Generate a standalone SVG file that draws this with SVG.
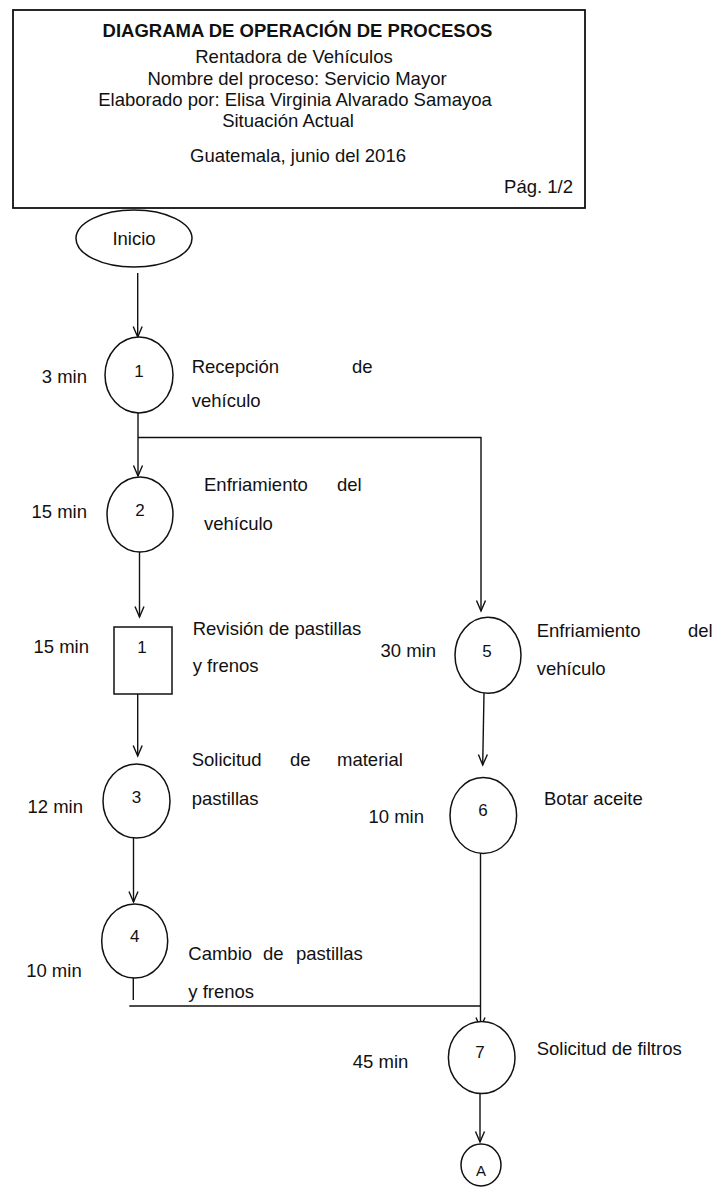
<svg xmlns="http://www.w3.org/2000/svg" width="714" height="1187" viewBox="0 0 714 1187">
<style>
text{font-family:"Liberation Sans",Arial,sans-serif;fill:#111}
.h{font-size:18.5px;text-anchor:middle}
.t{font-size:18.5px;font-weight:bold;text-anchor:middle}
.l{font-size:18.5px}
.n{font-size:17px;text-anchor:middle}
.s{fill:#fff;stroke:#111;stroke-width:1.5}
.c{fill:none;stroke:#111;stroke-width:1.4}
</style>
<defs>
<marker id="arr" markerUnits="userSpaceOnUse" markerWidth="14" markerHeight="12" viewBox="0 0 14 12" refX="12" refY="6" orient="auto">
<path d="M1.5,1.5 L12,6 L1.5,10.5" fill="none" stroke="#111" stroke-width="1.4"/>
</marker>
</defs>
<rect width="714" height="1187" fill="#fff"/>
<g id="header">
<rect x="13" y="10" width="572" height="198" fill="#fff" stroke="#111" stroke-width="1.8"/>
<text class="t" x="297.5" y="37">DIAGRAMA DE OPERACIÓN DE PROCESOS</text>
<text class="h" x="294" y="63">Rentadora de Vehículos</text>
<text class="h" x="297" y="84.5">Nombre del proceso: Servicio Mayor</text>
<text class="h" x="295" y="106">Elaborado por: Elisa Virginia Alvarado Samayoa</text>
<text class="h" x="288" y="127">Situación Actual</text>
<text class="h" x="298" y="162">Guatemala, junio del 2016</text>
<text class="l" x="573" y="192.5" text-anchor="end">Pág. 1/2</text>
</g>
<g id="connectors">
<path class="c" d="M137.7,273 V337" marker-end="url(#arr)"/>
<path class="c" d="M138,413 V476" marker-end="url(#arr)"/>
<path class="c" d="M138,437.5 H481 V611" marker-end="url(#arr)"/>
<path class="c" d="M139.5,552 V617" marker-end="url(#arr)"/>
<path class="c" d="M137.7,694 V756" marker-end="url(#arr)"/>
<path class="c" d="M133.5,838 V902" marker-end="url(#arr)"/>
<path class="c" d="M133.3,978 V1000"/>
<path class="c" d="M129.3,1006 H480"/>
<path class="c" d="M484,693 L482.7,765" marker-end="url(#arr)"/>
<path class="c" d="M480.5,853 V1028" marker-end="url(#arr)"/>
<path class="c" d="M480,1093 V1142" marker-end="url(#arr)"/>
</g>
<g id="inicio">
<ellipse class="s" cx="134" cy="238.5" rx="58" ry="28.5"/>
<text class="l" x="134" y="245" text-anchor="middle">Inicio</text>
</g>
<g id="op1">
<ellipse class="s" cx="139" cy="375" rx="34" ry="38"/>
<text class="n" x="139" y="377">1</text>
<text class="l" x="87" y="383" text-anchor="end">3 min</text>
<text class="l" y="373"><tspan x="191.7">Recepción</tspan><tspan x="352">de</tspan></text>
<text class="l" x="191.7" y="406.5">vehículo</text>
</g>
<g id="op2">
<ellipse class="s" cx="140" cy="514.5" rx="33" ry="37.5"/>
<text class="n" x="140" y="516">2</text>
<text class="l" x="87" y="518" text-anchor="end">15 min</text>
<text class="l" y="490.7"><tspan x="204">Enfriamiento</tspan><tspan x="337">del</tspan></text>
<text class="l" x="204" y="530">vehículo</text>
</g>
<g id="insp1">
<rect class="s" x="114" y="627" width="58" height="67"/>
<text class="n" x="142" y="653">1</text>
<text class="l" x="89" y="653" text-anchor="end">15 min</text>
<text class="l" x="192.7" y="635">Revisión de pastillas</text>
<text class="l" x="192.7" y="672">y frenos</text>
</g>
<g id="op3">
<ellipse class="s" cx="136.5" cy="801" rx="33.5" ry="37"/>
<text class="n" x="136.5" y="803">3</text>
<text class="l" x="83" y="813" text-anchor="end">12 min</text>
<text class="l" y="766"><tspan x="191.7">Solicitud</tspan><tspan x="290">de</tspan><tspan x="337">material</tspan></text>
<text class="l" x="191.7" y="805">pastillas</text>
</g>
<g id="op4">
<ellipse class="s" cx="134.7" cy="941" rx="33" ry="37"/>
<text class="n" x="134.7" y="942">4</text>
<text class="l" x="81.7" y="977" text-anchor="end">10 min</text>
<text class="l" y="960"><tspan x="188.3">Cambio</tspan><tspan x="263">de</tspan><tspan x="296">pastillas</tspan></text>
<text class="l" x="188.3" y="998">y frenos</text>
</g>
<g id="op5">
<ellipse class="s" cx="488" cy="655.3" rx="33" ry="38"/>
<text class="n" x="487" y="657">5</text>
<text class="l" x="436" y="657" text-anchor="end">30 min</text>
<text class="l" y="637"><tspan x="536.7">Enfriamiento</tspan><tspan x="688">del</tspan></text>
<text class="l" x="536.7" y="675">vehículo</text>
</g>
<g id="op6">
<ellipse class="s" cx="483.3" cy="815.5" rx="33.3" ry="38"/>
<text class="n" x="483" y="816">6</text>
<text class="l" x="424" y="823" text-anchor="end">10 min</text>
<text class="l" x="544" y="805">Botar aceite</text>
</g>
<g id="op7">
<ellipse class="s" cx="481.7" cy="1057.5" rx="33.3" ry="36"/>
<text class="n" x="480" y="1058">7</text>
<text class="l" x="408.3" y="1068" text-anchor="end">45 min</text>
<text class="l" x="536.7" y="1055">Solicitud de filtros</text>
</g>
<g id="connA">
<ellipse class="s" cx="481" cy="1165" rx="20" ry="21"/>
<text class="n" x="481" y="1176" style="font-size:15px">A</text>
</g>
</svg>
